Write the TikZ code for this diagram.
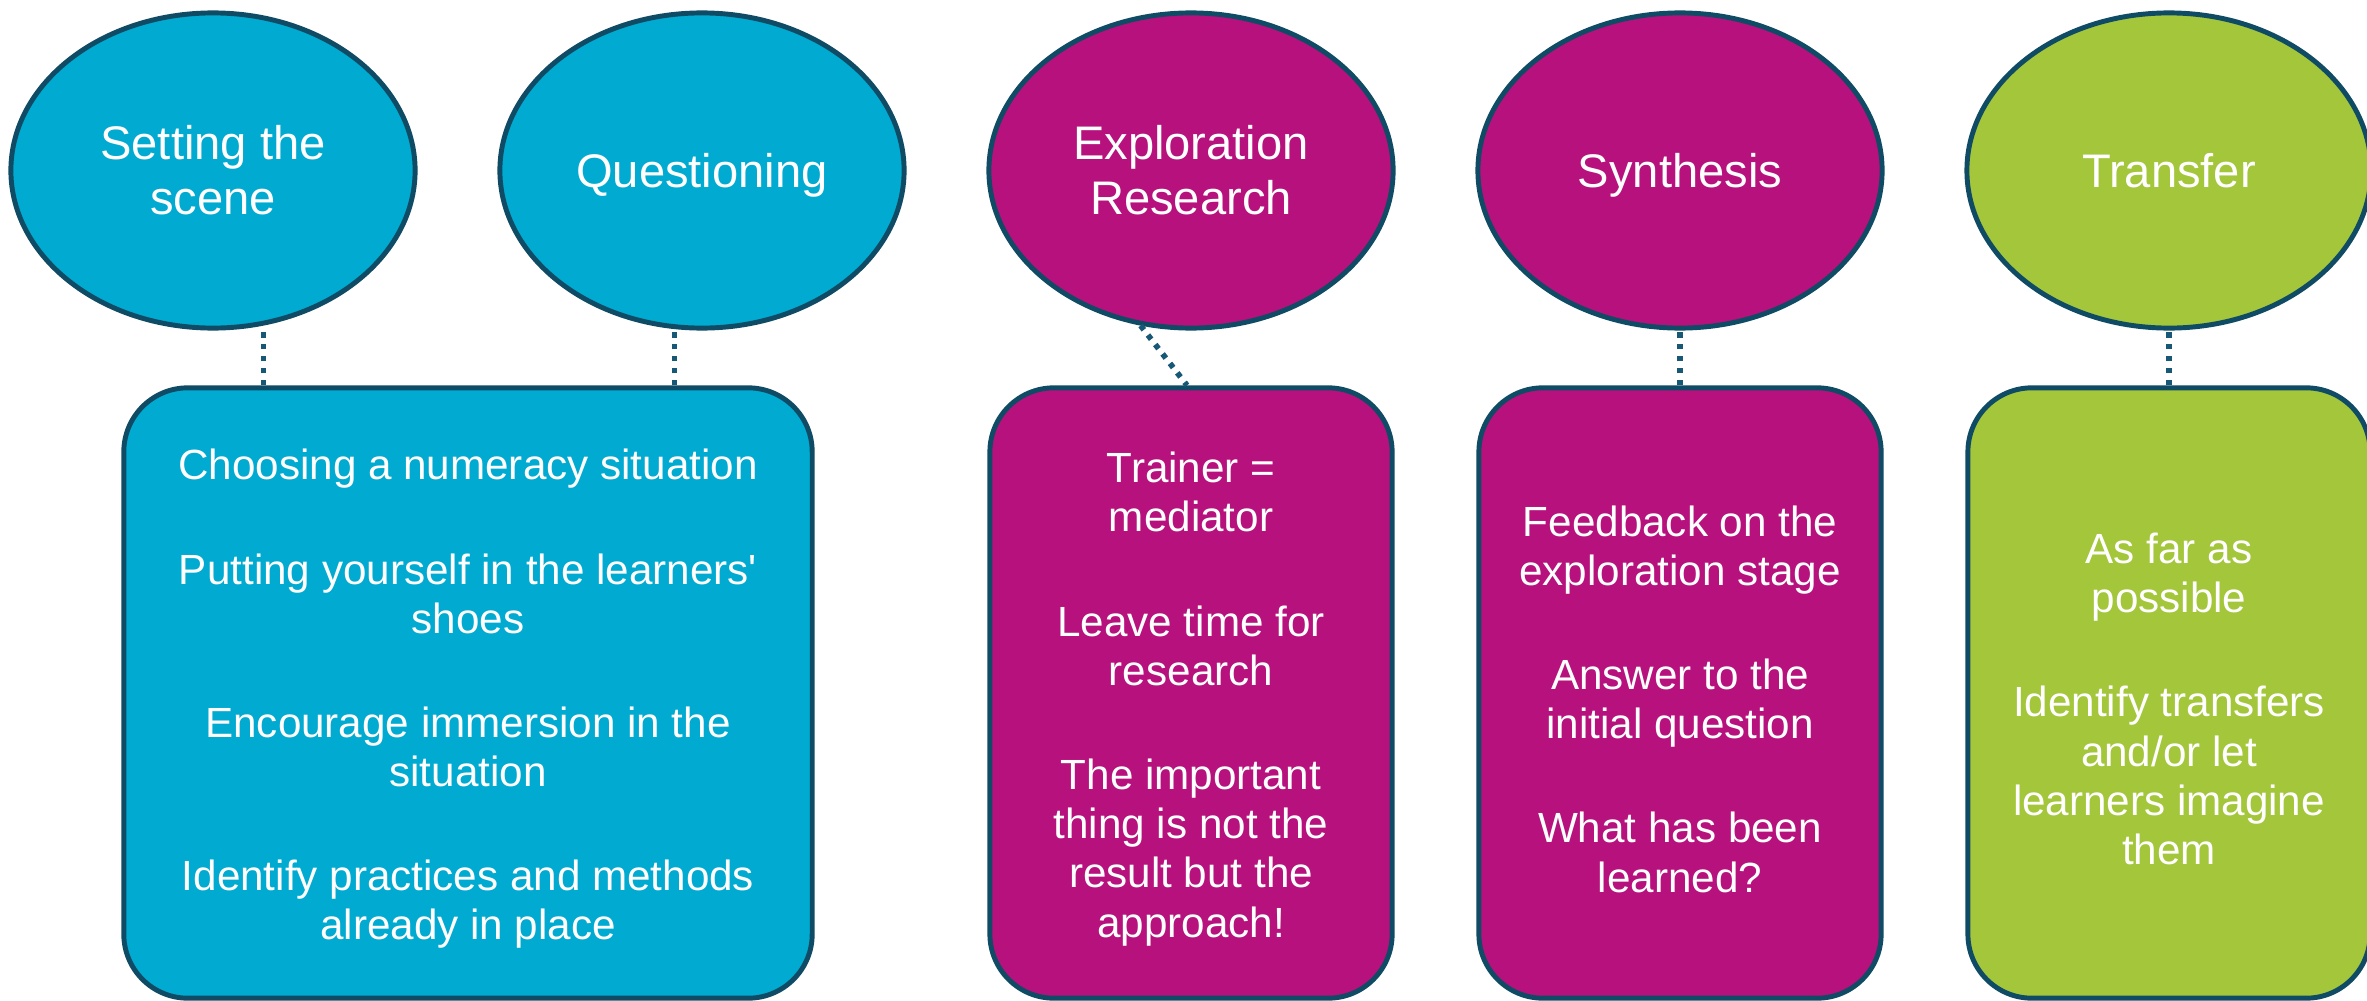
\documentclass[tikz,border=0pt]{standalone}
\usepackage{fontspec}
\newfontfamily\arialfont{Liberation Sans}
\usetikzlibrary{shapes.geometric,calc}
\definecolor{cblue}{RGB}{0,170,208}
\definecolor{cmag}{RGB}{182,17,124}
\definecolor{cgreen}{RGB}{163,198,59}
\definecolor{cedge}{RGB}{15,75,100}
\definecolor{cdot}{RGB}{22,88,118}
\newcommand{\pgap}{\\[15.6pt]}
\tikzset{
  stage/.style={ellipse, draw=cedge, line width=1.4pt, minimum width=4.04cm, minimum height=3.15cm,
    text=white, align=center, inner sep=0pt, font=\arialfont\fontsize{13.4}{15.6}\selectfont},
  oneline/.style={text depth=0pt},
  infobox/.style={rectangle, rounded corners=0.64cm, draw=cedge, line width=1.4pt, minimum width=4.02cm,
    minimum height=6.1cm, inner sep=0pt},
  boxtext/.style={text=white, align=center, inner sep=0pt, font=\arialfont\fontsize{12}{14}\selectfont},
  dotline/.style={draw=cdot, line width=1.6pt, dash pattern=on 1.5pt off 1.9pt}
}
\begin{document}
\begin{tikzpicture}[x=0.01cm, y=-0.01cm]
\useasboundingbox (0,0) rectangle (2367,1000);
% stages
\node[stage, fill=cblue] (e1) at (213,170.5) {Setting the\\scene};
\node[stage, oneline, fill=cblue] (e2) at (702,170.5) {Questioning};
\node[stage, fill=cmag] (e3) at (1191,170.5) {Exploration\\Research};
\node[stage, oneline, fill=cmag] (e4) at (1680,170.5) {Synthesis};
\node[stage, oneline, fill=cgreen] (e5) at (2169,170.5) {Transfer};
% boxes
\node[infobox, fill=cblue, minimum width=6.88cm] (b1) at (468,693) {};
\node[infobox, fill=cmag] (b2) at (1191,693) {};
\node[infobox, fill=cmag] (b3) at (1680,693) {};
\node[infobox, fill=cgreen] (b4) at (2169,693) {};
% box texts
\node[boxtext] (t1) at ($(b1.center)+(0,6)$)
 {Choosing a numeracy situation\pgap
  Putting yourself in the learners'\\shoes\pgap
  Encourage immersion in the\\situation\pgap
  Identify practices and methods\\already in place};
\node[boxtext] (t2) at ($(b2.center)+(0,6)$)
 {Trainer =\\mediator\pgap
  Leave time for\\research\pgap
  The important\\thing is not the\\result but the\\approach!};
\node[boxtext] (t3) at ($(b3.center)+(0,6)$)
 {Feedback on the\\exploration stage\pgap
  Answer to the\\initial question\pgap
  What has been\\learned?};
\node[boxtext] (t4) at ($(b4.center)+(0,6)$)
 {As far as\\possible\pgap
  Identify transfers\\and/or let\\learners imagine\\them};
% connectors
\coordinate (c1) at ($(b1.north west)+(142,0)$);
\coordinate (c2) at ($(b1.north east)+(-140,0)$);
\draw[dotline] (c1) -- (c1 |- e1.south);
\draw[dotline] (c2) -- (c2 |- e2.south);
\draw[dotline] (e3.252) -- ($(b2.north)+(-4,0)$);
\draw[dotline] (b3.north) -- (e4.south);
\draw[dotline] (b4.north) -- (e5.south);
\end{tikzpicture}
\end{document}
